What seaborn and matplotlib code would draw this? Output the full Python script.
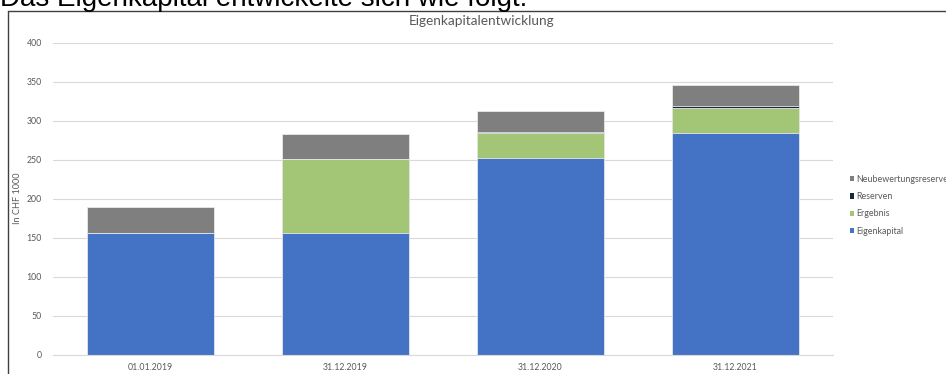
import matplotlib
matplotlib.use("Agg")
import matplotlib.pyplot as plt
from matplotlib.lines import Line2D
from matplotlib.patches import Patch
import seaborn as sns
import pandas as pd
import numpy as np

# ---- data ----
dates = ["01.01.2019", "31.12.2019", "31.12.2020", "31.12.2021"]
eigenkapital = [156, 156, 252, 284]
ergebnis = [0, 95, 32, 32]
reserven = [0, 0, 2, 3]
neubewertungsreserve = [33, 32, 27, 27]

series_names = ["Eigenkapital", "Ergebnis", "Reserven", "Neubewertungsreserve"]
series_values = [eigenkapital, ergebnis, reserven, neubewertungsreserve]
colors = {"Eigenkapital": "#4472C4", "Ergebnis": "#A2C675",
          "Reserven": "#1B2741", "Neubewertungsreserve": "#7F7F7F"}

sns.set_theme(style="white")
plt.rcParams["font.family"] = ["Lato", "DejaVu Sans"]

W, H = 946, 374
fig = plt.figure(figsize=(W / 100, H / 100), dpi=100)
ax = fig.add_axes([53 / W, 1 - 354.7 / H, (833 - 53) / W, (354.7 - 42.7) / H])

# cumulative stacks, drawn from top layer to bottom
cum = np.cumsum(np.array(series_values), axis=0)
for i in range(len(series_names) - 1, -1, -1):
    name = series_names[i]
    df = pd.DataFrame({"Datum": dates, "Wert": cum[i]})
    sns.barplot(data=df, x="Datum", y="Wert", color=colors[name], ax=ax,
                width=0.65, saturation=1, edgecolor="#e8e8e8", linewidth=0.6,
                errorbar=None, zorder=2)

ax.set_ylim(0, 400)
ax.set_xlim(-0.5, 3.5)
ax.set_yticks(range(0, 401, 50))
ax.yaxis.grid(True, color="#d9d9d9", linewidth=0.8, zorder=0)
ax.set_axisbelow(True)
for s in ["top", "right", "left"]:
    ax.spines[s].set_visible(False)
ax.spines["bottom"].set_color("#d9d9d9")
ax.spines["bottom"].set_linewidth(0.8)
ax.tick_params(axis="both", length=0, labelsize=6.3, colors="#595959")
ax.tick_params(axis="y", pad=8)
ax.tick_params(axis="x", pad=6)
ax.set_xlabel("")
ax.set_ylabel("In CHF 1000", fontsize=6.6, color="#595959")
ax.yaxis.set_label_coords((22 - 53) / (833 - 53), 0.5)

# title
fig.text(482 / W, 1 - 21 / H, "Eigenkapitalentwicklung", ha="center", va="center",
         fontsize=9.8, color="#595959")

# legend
handles = [Patch(facecolor=colors[n], edgecolor="none") for n in series_names[::-1]]
leg = fig.legend(handles, series_names[::-1], loc="upper left",
                 bbox_to_anchor=(846 / W, 1 - 171 / H), frameon=False,
                 fontsize=6.4, handlelength=0.55, handleheight=0.55,
                 handletextpad=0.25, labelspacing=0.95, borderaxespad=0,
                 labelcolor="#595959")

# chart frame (partly cut off)
fig.add_artist(Line2D([8 / W, 8 / W], [1 - 11 / H, 0], transform=fig.transFigure,
                      color="#404040", linewidth=1.0))
fig.add_artist(Line2D([8 / W, 1], [1 - 11 / H, 1 - 11 / H], transform=fig.transFigure,
                      color="#404040", linewidth=1.0))

# cut-off heading above chart
fig.text(0 / W, 1 - 5.6 / H, "Das Eigenkapital entwickelte sich wie folgt:",
         ha="left", va="baseline", fontsize=20,
         family=["Liberation Sans", "DejaVu Sans"], color="black")

fig.savefig("out.png", dpi=100)
